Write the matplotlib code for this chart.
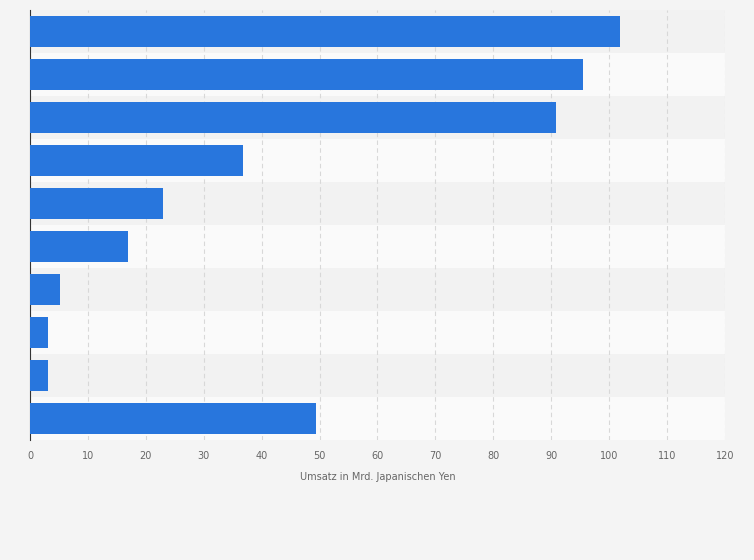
import matplotlib
matplotlib.use("Agg")
import matplotlib.pyplot as plt

categories = ["A", "B", "C", "D", "E", "F", "G", "H", "I", "J"]
values = [101.8, 95.5, 90.8, 36.7, 23.0, 17.0, 5.2, 3.1, 3.1, 49.4]
xticks = list(range(0, 121, 10))

fig = plt.figure(figsize=(7.54, 5.60), dpi=100, facecolor="#f4f4f4")
ax = fig.add_axes([30/754, 1-440/560, 695/754, 430/560])
ax.set_facecolor("#fafafa")
n = len(categories)
ypos = list(range(n))
for i in ypos:
    if i % 2 == 0:
        ax.axhspan(i-0.5, i+0.5, color="#f2f2f2", zorder=0, lw=0)
ax.barh(ypos, values, height=0.7, color="#2876dd", zorder=3)
ax.set_ylim(n-0.5, -0.5)
ax.set_xlim(0, 120)
ax.set_xticks(xticks)
ax.set_xticklabels([str(t) for t in xticks], fontsize=7, color="#666666")
ax.set_yticks([])
ax.grid(axis="x", color="#d8d8d8", linestyle=(0, (4, 3)), lw=0.8, zorder=1)
for s in ["top", "right", "bottom"]:
    ax.spines[s].set_visible(False)
ax.spines["left"].set_color("#333333")
ax.tick_params(axis="x", length=0, pad=8)
ax.set_xlabel("Umsatz in Mrd. Japanischen Yen", fontsize=7, color="#666666", labelpad=8)
fig.savefig("out.png", dpi=100, facecolor=fig.get_facecolor())
